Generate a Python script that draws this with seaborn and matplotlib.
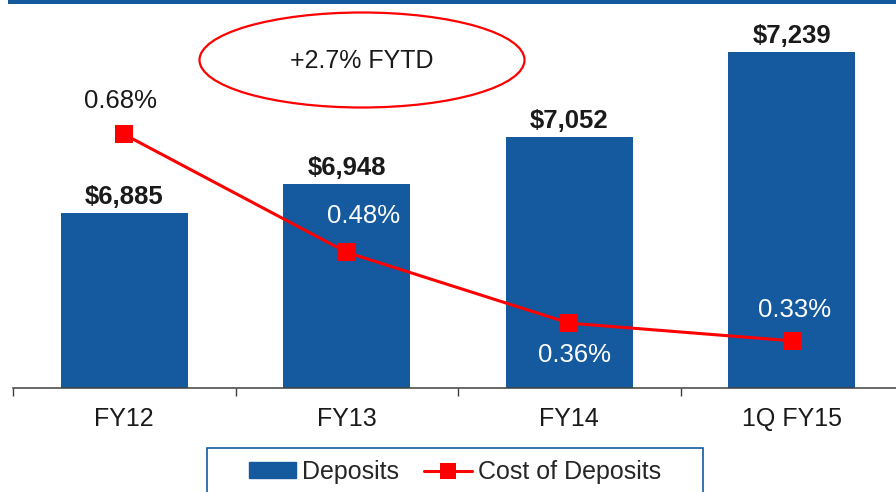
import numpy as np
import pandas as pd
import matplotlib.pyplot as plt
import seaborn as sns
from matplotlib.patches import Ellipse, Rectangle, Patch
from matplotlib.lines import Line2D

# ==========================================
# DATA
# ==========================================

categories = ["FY12", "FY13", "FY14", "1Q FY15"]
deposits = [6885, 6948, 7052, 7239]
cost_of_deposits = [0.68, 0.48, 0.36, 0.33]
deposit_labels = ["$6,885", "$6,948", "$7,052", "$7,239"]
cost_labels = ["0.68%", "0.48%", "0.36%", "0.33%"]
callout = "+2.7% FYTD"

# label offsets in points (x, y) and colours for the cost labels
cost_offsets = [(-3, 24), (12, 26), (4, -23), (2, 22)]
cost_colors = ["#1a1a1a", "white", "white", "white"]

BLUE = "#155a9e"
RED = "#ff0000"
TXT = "#1a1a1a"

sns.set_theme(style="white")
plt.rcParams["font.family"] = ["Liberation Sans", "DejaVu Sans"]

W, H = 896, 492
fig = plt.figure(figsize=(W / 100, H / 100), dpi=100)


def fx(px):
    return px / W


def fy(py):
    return 1 - py / H


df = pd.DataFrame({"period": categories, "deposits": deposits, "cost": cost_of_deposits})

# ==========================================
# BARS
# ==========================================

ax = fig.add_axes([fx(13), fy(388), (903 - 13) / W, (388 - 10) / H])
sns.barplot(data=df, x="period", y="deposits", color=BLUE, saturation=1,
            width=0.57, linewidth=0, ax=ax)
ax.set_xlim(-0.5, 3.5)
ax.set_ylim(6500, 7331)

for i, (v, lab) in enumerate(zip(deposits, deposit_labels)):
    ax.annotate(lab, (i, v), xytext=(0, 3), textcoords="offset points",
                ha="center", va="bottom", fontsize=18.5, fontweight="bold", color=TXT)

for s in ["left", "right", "top"]:
    ax.spines[s].set_visible(False)
ax.spines["bottom"].set_color("#404040")
ax.spines["bottom"].set_linewidth(1.1)
ax.set_yticks([])
ax.set_xlabel("")
ax.set_ylabel("")
ax.set_xticks(range(len(categories)))
ax.set_xticklabels(categories, fontsize=18, color=TXT)
ax.set_xticks(np.arange(-0.5, len(categories)), minor=True)
ax.tick_params(axis="x", which="major", length=0, pad=14)
ax.tick_params(axis="x", which="minor", length=6, width=1, color="#404040",
               direction="out", bottom=True)

# ==========================================
# COST OF DEPOSITS LINE
# ==========================================

ax2 = ax.twinx()
sns.lineplot(x=df.index, y=df["cost"], ax=ax2, color=RED, linewidth=2.2,
             marker="s", markersize=13, markeredgewidth=0, sort=False)
ax2.set_ylim(0.25, 0.891)
ax2.set_yticks([])
ax2.set_ylabel("")
for s in ax2.spines.values():
    s.set_visible(False)

for i, (v, lab) in enumerate(zip(cost_of_deposits, cost_labels)):
    ax2.annotate(lab, (i, v), xytext=cost_offsets[i], textcoords="offset points",
                 ha="center", va="center", fontsize=18.5, color=cost_colors[i])

# ==========================================
# DECORATIONS
# ==========================================

fig.add_artist(Rectangle((fx(8), fy(3.5)), 1 - fx(8), 3.5 / H,
                         transform=fig.transFigure, color=BLUE, lw=0))

fig.add_artist(Ellipse((fx(362), fy(60)), 325 / W, 95 / H,
                       transform=fig.transFigure, fill=False, edgecolor=RED, lw=1.6))
fig.text(fx(362), fy(61), callout, ha="center", va="center", fontsize=18, color=TXT)

fig.add_artist(Rectangle((fx(207), fy(500)), (703 - 207) / W, (500 - 448) / H,
                         transform=fig.transFigure, fill=False, edgecolor=BLUE, lw=1.2))

handles = [
    Patch(facecolor=BLUE, edgecolor=BLUE),
    Line2D([0], [0], color=RED, lw=2.2, marker="s", markersize=12, markeredgewidth=0),
]
fig.legend(handles, ["Deposits", "Cost of Deposits"], loc="center",
           bbox_to_anchor=(fx(455), fy(472)), ncol=2, frameon=False, fontsize=18,
           handlelength=1.9, handleheight=0.6, handletextpad=0.25, columnspacing=1.0)

fig.savefig("out.png", dpi=100)
